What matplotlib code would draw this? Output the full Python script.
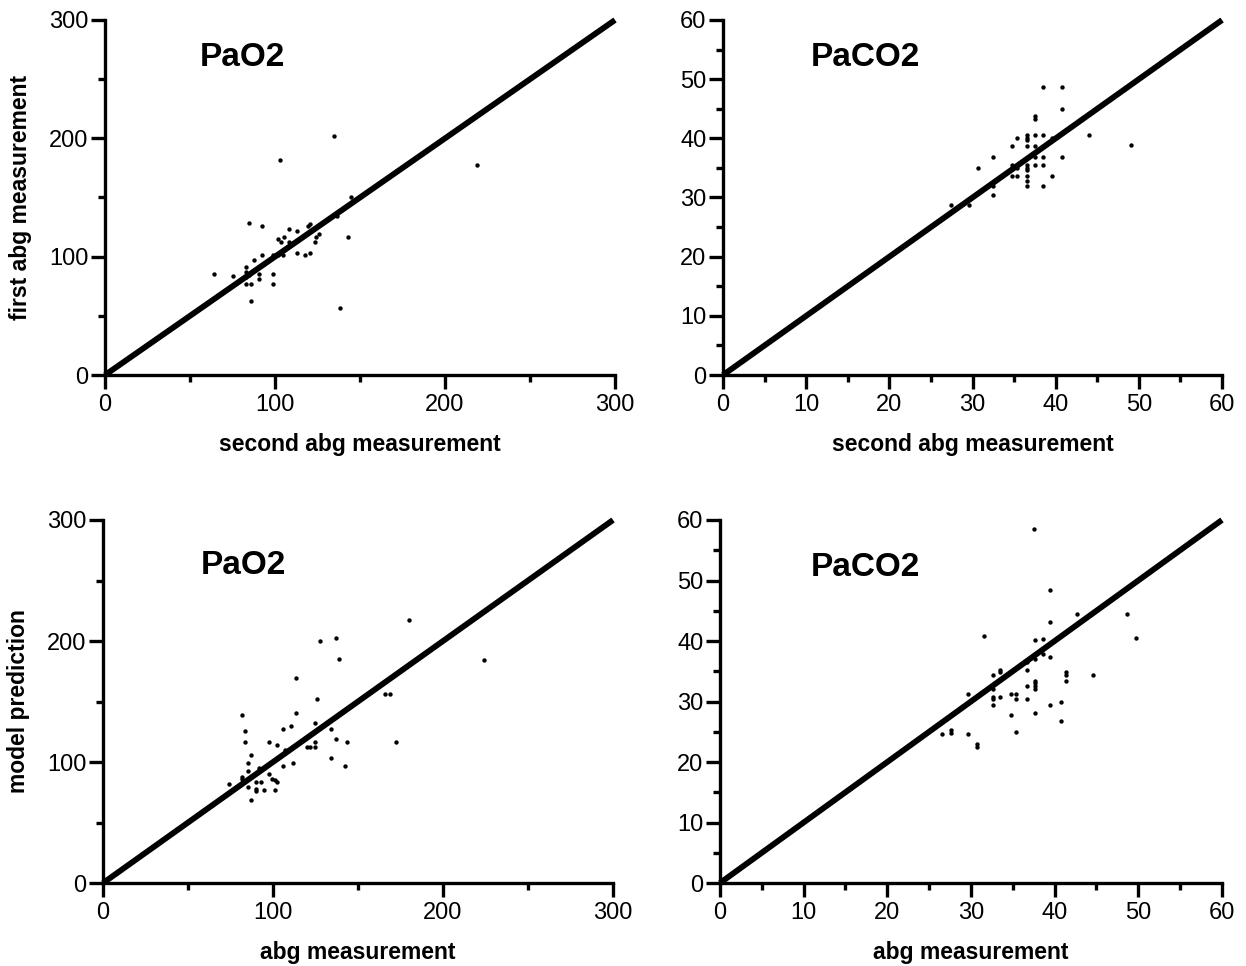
#!/usr/bin/env python3
import matplotlib
matplotlib.use("Agg")
import matplotlib.pyplot as plt
from matplotlib.ticker import MultipleLocator

plt.rcParams["font.family"] = ["Liberation Sans", "DejaVu Sans"]

# top-left: PaO2, first vs second abg measurement
pao2_second = [134.7, 103.1, 144.7, 84.5, 92.4, 108.2, 113.0, 119.2, 120.8, 102.0,
               103.5, 105.1, 108.2, 124.1, 125.7, 123.7, 142.9, 136.5, 92.4, 99.0,
               102.0, 104.9, 113.0, 117.6, 120.8, 87.6, 64.1, 75.1, 82.9, 82.9,
               82.9, 84.5, 90.8, 98.8, 90.8, 82.9, 86.0, 98.8, 86.0, 138.4, 218.8]
pao2_first = [202.2, 182.0, 150.4, 128.2, 125.9, 123.7, 121.4, 125.9, 127.9, 114.7,
              112.7, 116.9, 112.4, 116.9, 119.2, 112.4, 116.6, 134.6, 101.1, 101.0,
              101.0, 101.0, 103.4, 101.1, 103.4, 96.9, 85.6, 83.4, 91.0, 87.0,
              83.0, 84.2, 85.6, 85.6, 81.1, 76.6, 76.6, 76.6, 62.8, 56.3, 177.7]

# top-right: PaCO2, first vs second abg measurement
paco2_second = [38.5, 40.7, 40.7, 37.5, 37.5, 44.0, 49.0, 36.6, 36.6, 36.6,
                37.5, 38.5, 39.6, 35.3, 34.7, 36.6, 37.5, 32.5, 37.5, 38.5,
                40.7, 30.6, 34.7, 35.0, 35.3, 36.6, 36.6, 36.6, 37.5, 38.5,
                34.7, 35.3, 36.6, 36.6, 36.6, 38.5, 39.5, 32.5, 32.5, 27.4, 29.6]
paco2_first = [48.6, 48.6, 45.0, 43.7, 43.2, 40.5, 38.9, 40.5, 40.0, 39.8,
               40.5, 40.5, 40.0, 40.0, 38.7, 38.7, 38.7, 36.8, 36.8, 36.8,
               36.8, 35.0, 35.5, 35.2, 35.0, 35.5, 35.0, 34.6, 35.5, 35.5,
               33.7, 33.7, 33.7, 32.8, 31.9, 31.9, 33.7, 31.9, 30.5, 28.7, 28.7]

# bottom-left: PaO2, model prediction vs abg measurement
pao2_abg = [180.2, 127.6, 137.1, 138.6, 113.5, 126.1, 165.9, 169.0, 81.8, 113.5,
            83.3, 105.7, 110.4, 124.5, 133.9, 83.3, 97.8, 102.5, 124.5, 137.3,
            143.7, 172.4, 119.8, 121.8, 124.5, 107.3, 86.9, 133.9, 85.3, 112.0,
            105.7, 142.2, 85.3, 91.6, 97.8, 81.8, 81.8, 74.3, 85.3, 90.0,
            93.1, 99.4, 101.0, 102.5, 90.0, 90.0, 94.7, 101.0, 86.9, 224.3]
pao2_model = [217.4, 200.3, 202.2, 184.9, 169.4, 151.8, 156.2, 156.2, 138.6, 140.8,
              125.3, 127.5, 129.8, 132.0, 127.5, 116.5, 116.5, 114.3, 116.5, 118.7,
              116.5, 116.5, 112.1, 112.1, 112.1, 109.9, 105.8, 103.6, 99.2, 98.9,
              97.0, 97.0, 92.6, 94.8, 90.3, 87.9, 86.0, 81.8, 79.6, 83.7,
              83.7, 86.0, 85.1, 83.7, 77.4, 76.3, 77.1, 77.1, 68.3, 184.5]

# bottom-right: PaCO2, model prediction vs abg measurement
paco2_abg = [37.5, 39.5, 42.7, 39.5, 31.6, 37.6, 38.6, 38.6, 37.6, 39.5,
             36.7, 36.7, 33.5, 33.5, 32.6, 41.4, 41.4, 41.4, 44.6, 37.6,
             37.6, 37.6, 37.6, 36.7, 32.6, 29.7, 32.6, 32.6, 33.5, 34.8,
             35.4, 35.4, 36.7, 32.6, 39.5, 40.8, 34.8, 37.6, 40.8, 26.6,
             27.6, 27.6, 29.7, 35.4, 30.7, 30.7, 48.7, 49.7]
paco2_model = [58.5, 48.4, 44.5, 43.1, 40.9, 40.1, 40.4, 37.8, 37.0, 37.4,
               36.5, 35.2, 35.2, 34.8, 34.3, 34.8, 34.3, 33.4, 34.3, 33.4,
               33.0, 32.5, 32.1, 32.6, 32.1, 31.2, 30.8, 30.4, 30.8, 31.2,
               31.2, 30.4, 30.4, 29.5, 29.5, 29.9, 27.7, 28.1, 26.8, 24.6,
               25.3, 24.8, 24.6, 25.0, 22.9, 22.4, 44.5, 40.5]

panels = [
    # x, y, axis max, major, minor, title, xlabel, ylabel, [left, bottom, w, h], title pos
    (pao2_second, pao2_first, 300, 100, 50, "PaO2", "second abg measurement",
     "first abg measurement", [0.0843, 0.6118, 0.4093, 0.3675], (81, 268)),
    (paco2_second, paco2_first, 60, 10, 5, "PaCO2", "second abg measurement",
     None, [0.5803, 0.6118, 0.4005, 0.3675], (17.1, 53.6)),
    (pao2_abg, pao2_model, 300, 100, 50, "PaO2", "abg measurement",
     "model prediction", [0.0827, 0.0859, 0.4093, 0.3758], (82.4, 262.8)),
    (paco2_abg, paco2_model, 60, 10, 5, "PaCO2", "abg measurement",
     None, [0.5778, 0.0859, 0.4029, 0.3758], (17.4, 52.2)),
]

fig = plt.figure(figsize=(12.46, 9.66), dpi=100)

for xs, ys, vmax, major, minor, title, xlab, ylab, rect, tpos in panels:
    ax = fig.add_axes(rect)
    ax.plot([0, vmax], [0, vmax], color="black", lw=4.2, clip_on=False,
            solid_capstyle="butt", zorder=2)
    ax.scatter(xs, ys, s=10, color="black", marker="o", linewidths=0,
               clip_on=False, zorder=3)
    ax.set_xlim(0, vmax)
    ax.set_ylim(0, vmax)
    for side in ("top", "right"):
        ax.spines[side].set_visible(False)
    for side in ("left", "bottom"):
        ax.spines[side].set_linewidth(2.4)
    ax.xaxis.set_major_locator(MultipleLocator(major))
    ax.xaxis.set_minor_locator(MultipleLocator(minor))
    ax.yaxis.set_major_locator(MultipleLocator(major))
    ax.yaxis.set_minor_locator(MultipleLocator(minor))
    ax.tick_params(which="major", direction="out", length=10, width=2.4,
                   labelsize=17, pad=4)
    ax.tick_params(which="minor", direction="out", length=5, width=2.4)
    ax.tick_params(axis="y", which="major", pad=2)
    ax.set_xlabel(xlab, fontsize=16.5, fontweight="bold", labelpad=12)
    if ylab:
        ax.set_ylabel(ylab, fontsize=16.5, fontweight="bold", labelpad=12)
    ax.text(tpos[0], tpos[1], title, fontsize=24, fontweight="bold",
            ha="center", va="center")

fig.savefig("out.png", dpi=100)
